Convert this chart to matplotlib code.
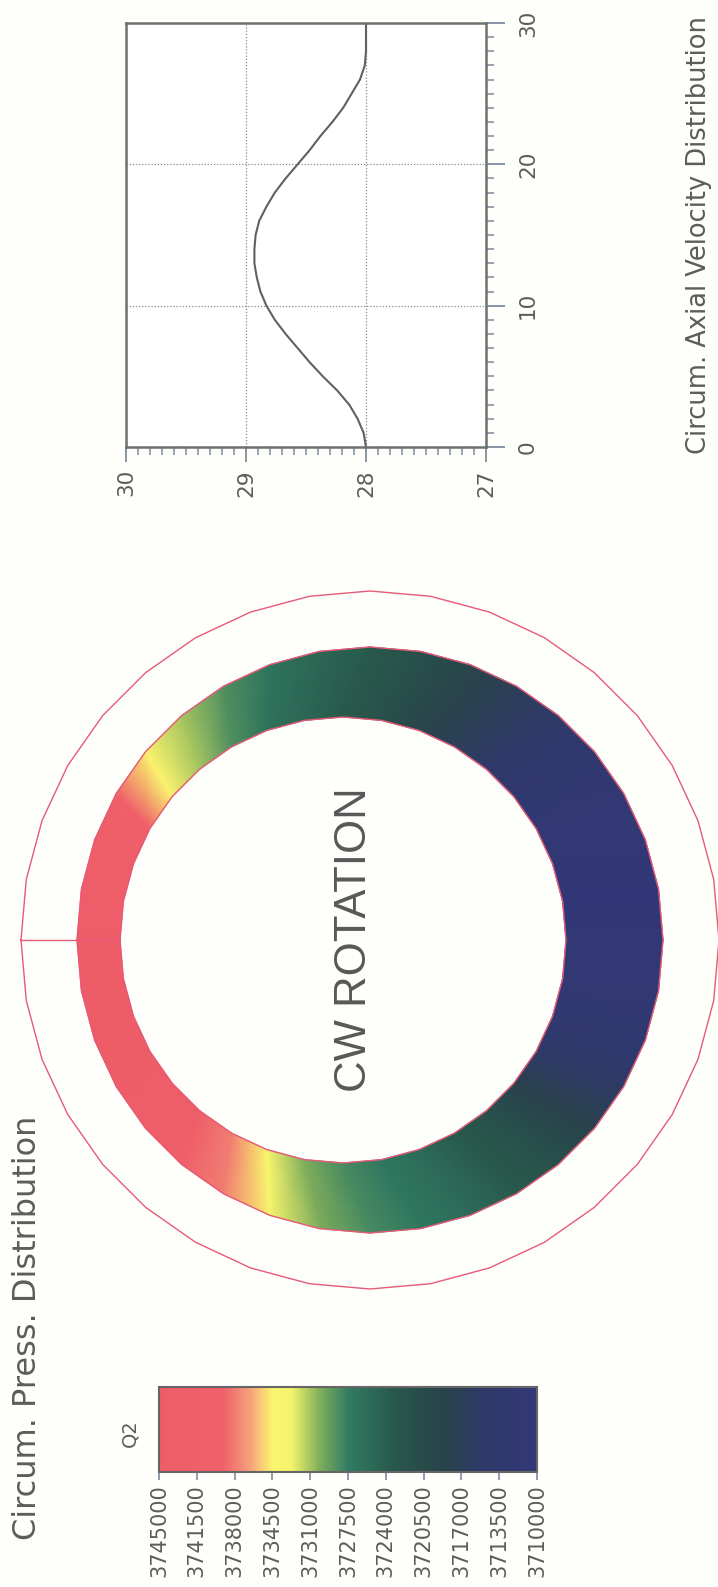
import numpy as np
import matplotlib
matplotlib.use("Agg")
import matplotlib.pyplot as plt
from matplotlib.colors import LinearSegmentedColormap, Normalize
from matplotlib.cm import ScalarMappable
from matplotlib.ticker import MultipleLocator

# ---- circumferential axial velocity: position along circumference -> velocity
vel_position = list(range(31))
vel_value = [28.00, 28.02, 28.07, 28.14, 28.24, 28.36, 28.47, 28.57, 28.67, 28.76,
             28.83, 28.88, 28.91, 28.93, 28.93, 28.92, 28.89, 28.83, 28.76, 28.67,
             28.57, 28.47, 28.38, 28.28, 28.19, 28.12, 28.05, 28.01, 28.00, 28.00,
             28.00]
vel_xticks = [27, 28, 29, 30]
vel_yticks = [0, 10, 20, 30]

# ---- circumferential pressure (Q2) around the annulus, every 10 degrees
press_angle = [0, 10, 20, 30, 40, 50, 60, 70, 80, 90, 100, 110,
               120, 130, 140, 150, 160, 170, 180, 190, 200, 210, 220, 230,
               240, 250, 260, 270, 280, 290, 300, 310, 320, 330, 340, 350]
press_value = [3744500, 3743000, 3742000, 3740500, 3734500, 3731000, 3728500, 3726500,
               3725000, 3723500, 3721500, 3719500, 3717000, 3714500, 3712500, 3711500,
               3711000, 3710800, 3711000, 3711500, 3712500, 3715000, 3718500, 3721500,
               3723500, 3725500, 3727000, 3728200, 3730000, 3734000, 3738000, 3741000,
               3743000, 3744500, 3745000, 3745000]
cbar_levels = [3745000, 3741500, 3738000, 3734500, 3731000, 3727500,
               3724000, 3720500, 3717000, 3713500, 3710000]

W, H = 718, 1587
PAPER = "#fefefb"
TXT = "#5c5c5c"
TICK = "#7d8c9c"
EDGE = "#e65a78"

def fx(px):
    return px / W

def fy(py):
    return 1 - py / H

cmap = LinearSegmentedColormap.from_list("q2", [
    (0.00, "#323778"),
    (0.15, "#2e3a66"),
    (0.25, "#29434a"),
    (0.38, "#28594b"),
    (0.50, "#317b63"),
    (0.58, "#86b25a"),
    (0.65, "#f4f46c"),
    (0.70, "#faf56e"),
    (0.76, "#f6a27c"),
    (0.83, "#ef616b"),
    (1.00, "#ee5c68"),
])
norm = Normalize(vmin=min(cbar_levels), vmax=max(cbar_levels))

fig = plt.figure(figsize=(W / 100, H / 100), dpi=100)
fig.patch.set_facecolor(PAPER)

# ---- annulus drawn on a page-sized canvas in pixel units
page = fig.add_axes([0, 0, 1, 1])
page.set_xlim(0, W)
page.set_ylim(H, 0)
page.axis("off")

cx, cy = 370.0, 940.0          # casing centre
r_case = 349.0                  # outer casing outline
r_out = 293.0                   # annulus outer wall
ci_x, ci_y = 343.0, 940.0       # displaced inner wall centre
r_in = 223.0

ang = np.deg2rad(np.r_[press_angle, 360])
vals = np.r_[press_value, press_value[0]]
ux, uy = -np.cos(ang), -np.sin(ang)
X = np.vstack([ci_x + r_in * ux, cx + r_out * ux])
Y = np.vstack([ci_y + r_in * uy, cy + r_out * uy])
C = np.vstack([vals, vals])
page.pcolormesh(X, Y, C, cmap=cmap, norm=norm, shading="gouraud", zorder=1)
page.plot(X[0], Y[0], color=EDGE, lw=1.0, zorder=2)
page.plot(X[1], Y[1], color=EDGE, lw=1.0, zorder=2)

poly = np.deg2rad(np.linspace(0, 360, 37))
page.plot(cx - r_case * np.cos(poly), cy - r_case * np.sin(poly),
          color=EDGE, lw=1.0, zorder=2)
page.plot([cx - r_case, ci_x - r_in], [cy, cy], color=EDGE, lw=1.0, zorder=3)

fig.text(fx(355), fy(940), "CW ROTATION", rotation=90, ha="center", va="center",
         fontsize=31.5, color="#585858", family="Liberation Sans")

# ---- titles
fig.text(fx(28), fy(1328), "Circum. Press. Distribution", rotation=90,
         ha="center", va="center", fontsize=23, color=TXT)
fig.text(fx(699), fy(235), "Circum. Axial Velocity Distribution", rotation=90,
         ha="center", va="center", fontsize=18.5, color=TXT)

# ---- velocity plot
ax = fig.add_axes([fx(126), fy(447), (486 - 126) / W, (447 - 23) / H])
ax.set_facecolor("white")
ax.plot(vel_value, vel_position, color="#606060", lw=1.5)
ax.set_xlim(30, 27)
ax.set_ylim(0, 30)
ax.set_xticks(vel_xticks)
ax.set_yticks(vel_yticks)
ax.xaxis.set_minor_locator(MultipleLocator(0.1))
ax.yaxis.set_minor_locator(MultipleLocator(1))
ax.yaxis.tick_right()
ax.grid(True, which="major", color="#8a8a8a", linestyle=(0, (1, 1.5)), lw=0.9)
for s in ax.spines.values():
    s.set_color("#707070")
    s.set_linewidth(1.8)
ax.tick_params(axis="x", which="major", direction="out", length=11, width=1.3,
               color=TICK, labelrotation=90, labelsize=15.5, labelcolor=TXT, pad=5)
ax.tick_params(axis="x", which="minor", direction="out", length=6, width=1.1, color=TICK)
ax.tick_params(axis="y", which="major", direction="out", length=14, width=1.3,
               color=TICK, labelrotation=90, labelsize=15.5, labelcolor=TXT, pad=9)
ax.tick_params(axis="y", which="minor", direction="out", length=6, width=1.1, color=TICK)
for lbl in ax.get_yticklabels():
    lbl.set_va("center")

# ---- colour scale
cax = fig.add_axes([fx(159), fy(1472), (537 - 159) / W, (1472 - 1387) / H])
cb = fig.colorbar(ScalarMappable(norm=norm, cmap=cmap), cax=cax, orientation="horizontal")
cb.set_ticks(cbar_levels)
cb.set_ticklabels([str(v) for v in cbar_levels])
cax.invert_xaxis()
cb.outline.set_edgecolor("#666666")
cb.outline.set_linewidth(1.5)
cax.tick_params(axis="x", direction="out", length=6, width=1.2, color=TICK,
                labelrotation=90, labelsize=15, labelcolor=TXT, pad=3)
fig.text(fx(130), fy(1433), "Q2", rotation=90, ha="center", va="center",
         fontsize=14, color=TXT)

fig.savefig("out.png", dpi=100, facecolor=PAPER)
